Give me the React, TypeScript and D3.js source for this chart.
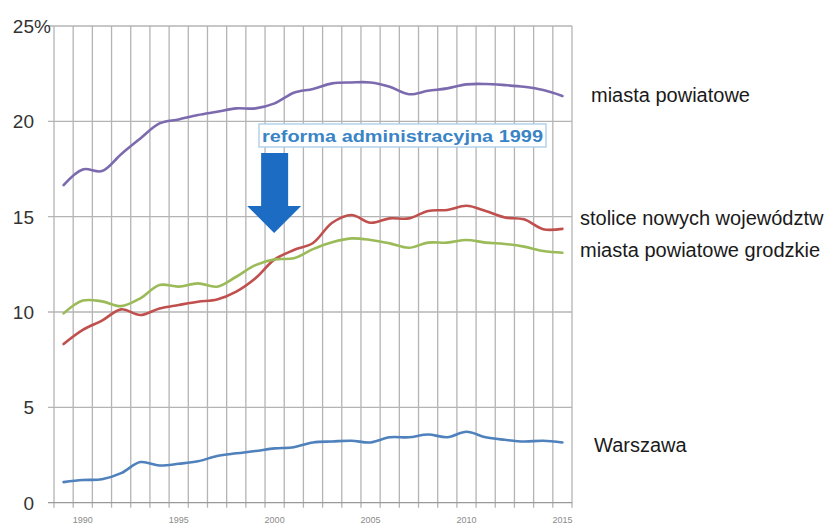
import React from "react";
import * as d3 from "d3";

const years = [1989, 1990, 1991, 1992, 1993, 1994, 1995, 1996, 1997, 1998, 1999, 2000, 2001, 2002, 2003, 2004, 2005, 2006, 2007, 2008, 2009, 2010, 2011, 2012, 2013, 2014, 2015];
const xTickLabels = [1990, 1995, 2000, 2005, 2010, 2015];
const yTicks = [0, 5, 10, 15, 20, 25];

const miastaPowiatowe = [16.66, 17.48, 17.39, 18.28, 19.1, 19.89, 20.1, 20.33, 20.5, 20.68, 20.68, 20.94, 21.5, 21.7, 21.99, 22.04, 22.04, 21.81, 21.42, 21.6, 21.73, 21.94, 21.96, 21.9, 21.81, 21.64, 21.33];
const stoliceNowych = [8.32, 9.06, 9.55, 10.14, 9.84, 10.19, 10.37, 10.54, 10.66, 11.07, 11.77, 12.76, 13.25, 13.62, 14.68, 15.09, 14.68, 14.91, 14.91, 15.3, 15.35, 15.57, 15.3, 14.96, 14.86, 14.34, 14.36];
const miastaGrodzkie = [9.93, 10.6, 10.56, 10.31, 10.72, 11.42, 11.33, 11.5, 11.33, 11.85, 12.46, 12.76, 12.82, 13.3, 13.66, 13.86, 13.78, 13.6, 13.37, 13.64, 13.64, 13.78, 13.64, 13.57, 13.43, 13.2, 13.11];
const warszawa = [1.08, 1.19, 1.23, 1.55, 2.13, 1.95, 2.04, 2.17, 2.45, 2.59, 2.71, 2.85, 2.91, 3.16, 3.21, 3.25, 3.16, 3.43, 3.43, 3.58, 3.43, 3.72, 3.43, 3.3, 3.21, 3.25, 3.16];

const seriesNames = ["miasta powiatowe", "stolice nowych województw", "miasta powiatowe grodzkie", "Warszawa"];
const seriesColors = ["#7c6aae", "#c0504d", "#9bbb59", "#4f81bd"];
const seriesData = [miastaPowiatowe, stoliceNowych, miastaGrodzkie, warszawa];
const labelPos = [
  { x: 591, y: 95 },
  { x: 580, y: 218 },
  { x: 580, y: 250 },
  { x: 594, y: 445 },
];

const annotationText = "reforma administracyjna 1999";

export default function App() {
  const W = 835, H = 525;
  const left = 54, right = 572, top = 26, bottom = 502.7;
  const x = d3.scaleBand<number>().domain(years).range([left, right]).padding(0);
  const bw = x.bandwidth();
  const cx = (yr: number) => (x(yr) as number) + bw / 2;
  const y = d3.scaleLinear().domain([0, 25]).range([bottom, top]);

  const line = d3
    .line<number>()
    .x((_, i) => cx(years[i]))
    .y((v) => y(v))
    .curve(d3.curveCatmullRom.alpha(0.5));

  const boundaries = years.map((yr) => x(yr) as number).concat([right]);
  const font = "'Liberation Sans', Arial, sans-serif";

  const ax = cx(2000) - 0.5;
  const arrowPath = `M${ax - 13},153 L${ax + 14},153 L${ax + 14},206 L${ax + 27},206 L${ax},233 L${ax - 27},206 L${ax - 13},206 Z`;

  return (
    <svg width={W} height={H} style={{ position: "absolute", left: 0, top: 0, background: "#fff" }}>
      <rect x={0} y={0} width={W} height={H} fill="#fff" />
      {boundaries.map((bx, i) => (
        <line key={"v" + i} x1={bx} x2={bx} y1={top} y2={bottom + 5} stroke="#b4b4b4" strokeWidth={1.3} />
      ))}
      {yTicks.map((t) => (
        <line key={"h" + t} x1={left - 6} x2={right} y1={y(t)} y2={y(t)} stroke={t === 0 ? "#999" : "#b4b4b4"} strokeWidth={1.3} />
      ))}
      {yTicks.map((t) => (
        <text key={"yl" + t} x={34} y={y(t)} dy="0.36em" textAnchor="end" fontFamily={font} fontSize={19} fill="#333">
          {t}
        </text>
      ))}
      <text x={34} y={y(25)} dy="0.36em" textAnchor="start" fontFamily={font} fontSize={19} fill="#333">%</text>
      {xTickLabels.map((yr) => (
        <text key={"xl" + yr} x={cx(yr)} y={523} textAnchor="middle" fontFamily={font} fontSize={9} fill="#8a8a8a">
          {yr}
        </text>
      ))}
      {seriesData.map((d, i) => (
        <path key={"s" + i} d={line(d) || ""} fill="none" stroke={seriesColors[i]} strokeWidth={2.6} strokeLinejoin="round" strokeLinecap="round" />
      ))}
      {seriesNames.map((n, i) => (
        <text key={"sl" + i} x={labelPos[i].x} y={labelPos[i].y} dy="0.35em" fontFamily={font} fontSize={20} fill="#1a1a1a">
          {n}
        </text>
      ))}
      <rect x={259} y={124} width={287} height={23} fill="#fff" stroke="#a9cbe8" strokeWidth={1.3} />
      <text x={262} y={136} dy="0.36em" fontFamily={font} fontWeight="bold" fontSize={17} fill="#3a84c6" textLength={281} lengthAdjust="spacingAndGlyphs">
        {annotationText}
      </text>
      <path d={arrowPath} fill="#1d6cc4" />
    </svg>
  );
}
